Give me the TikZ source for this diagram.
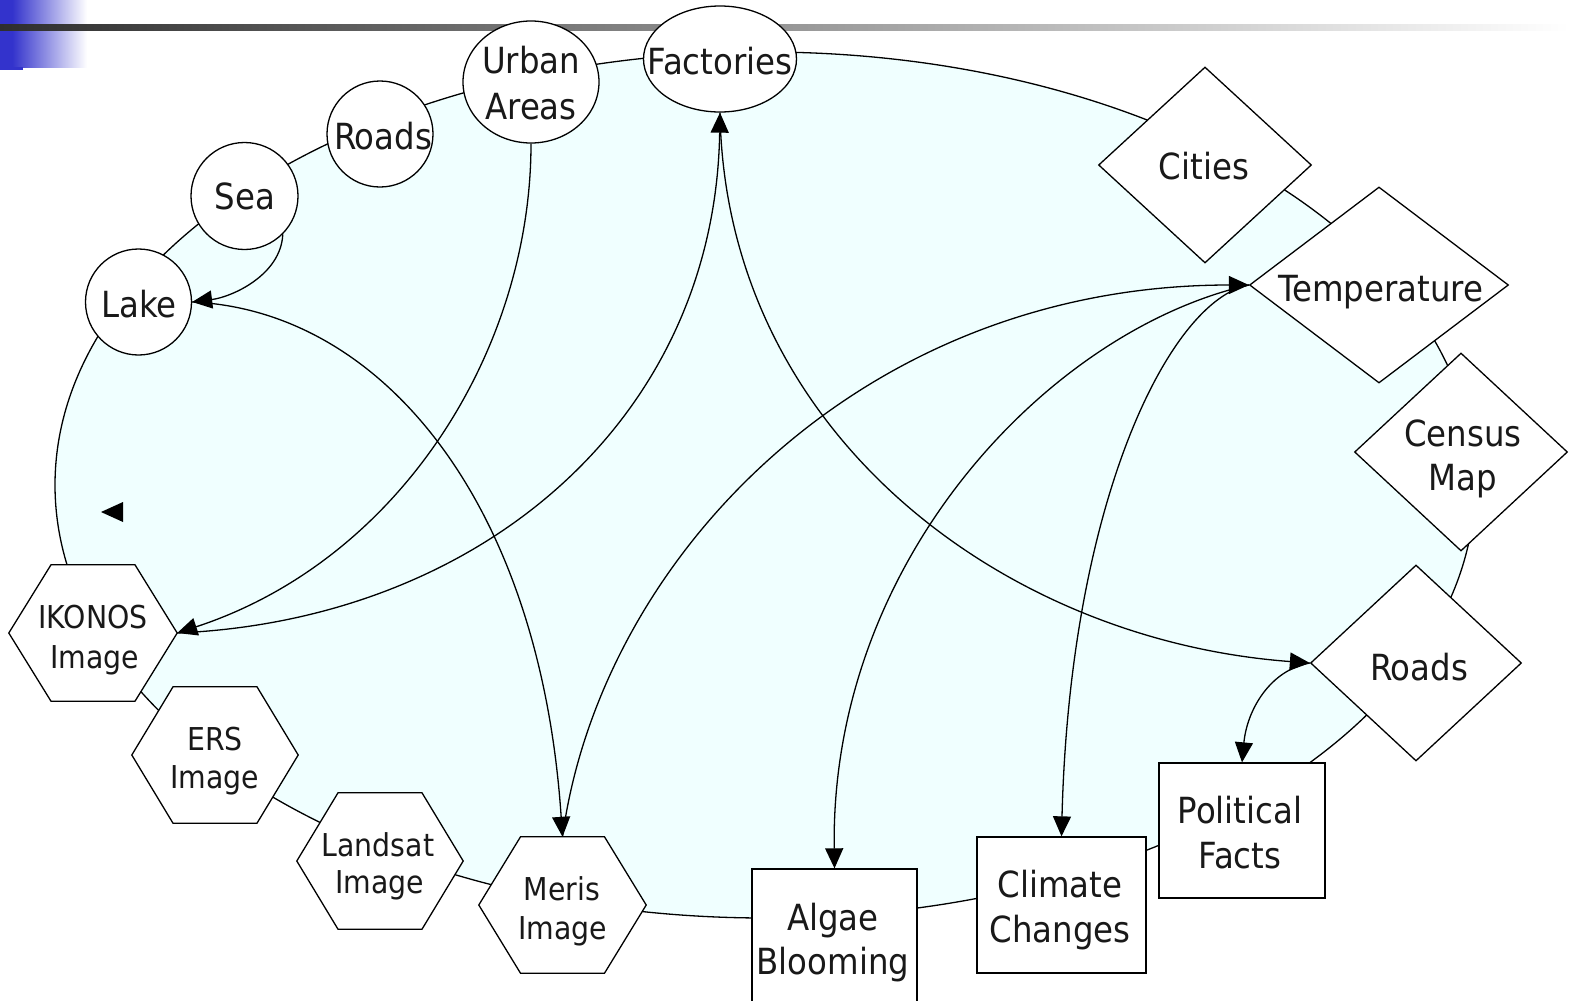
\documentclass[tikz,border=0pt]{standalone}
\usepackage{fontspec}
\setmainfont{DejaVu Sans Condensed}
\usetikzlibrary{shapes.geometric, arrows.meta}

\definecolor{ringfill}{RGB}{240,255,255}
\definecolor{barblue}{RGB}{51,51,204}
\definecolor{bardark}{RGB}{46,46,46}
% TikZ maps the 25bp--75bp band of a shading onto the filled path
\pgfdeclarehorizontalshading{bluefade}{100bp}{color(0bp)=(barblue); color(25bp)=(barblue); color(32bp)=(barblue); color(75bp)=(white); color(100bp)=(white)}
\pgfdeclarehorizontalshading{greyfade}{100bp}{color(0bp)=(bardark); color(25bp)=(bardark); color(75bp)=(white); color(100bp)=(white)}

% hexagon outline around a rectangular frame node
\newcommand\hexoutline[1]{%
  \filldraw[outline, fill=white] (#1.west) -- ([xshift=-42pt]#1.north) -- ([xshift=42pt]#1.north)
    -- (#1.east) -- ([xshift=42pt]#1.south) -- ([xshift=-42pt]#1.south) -- cycle;}

\tikzset{
  outline/.style={draw=black, line width=1.3pt, line join=miter},
  roundbox/.style={outline, fill=white, circle, inner sep=0pt},
  ovalbox/.style={outline, fill=white, ellipse, inner sep=0pt},
  diamondbox/.style={outline, fill=white, diamond, inner sep=0pt},
  squarebox/.style={outline, fill=white, rectangle, inner sep=0pt},
  hexframe/.style={rectangle, inner sep=0pt, minimum height=136pt},
  bigtext/.style={font=\fontsize{36}{44}\selectfont, anchor=base, inner sep=0pt, text=black!90},
  smalltext/.style={font=\fontsize{31.5}{38}\selectfont, anchor=base, inner sep=0pt, text=black!90},
  link/.style={draw=black, line width=1.3pt},
  headend/.style={-{Triangle[length=20pt,width=18pt]}},
}

\begin{document}
\begin{tikzpicture}[x=1pt, y=-1pt]
\useasboundingbox (0,0) rectangle (1569,1001);

% title decoration
\shade[shading=bluefade] (0,0) rectangle (87,67);
\fill[barblue] (0,67) rectangle (23,70);
\shade[shading=greyfade] (0,24) rectangle (1569,30);

% the ring
\draw[outline, fill=ringfill] (765,485) ellipse [x radius=710pt, y radius=433pt];

% shapes
\node[roundbox, minimum size=106pt] (lake) at (138.5,302) {};
\node[roundbox, minimum size=107pt] (sea) at (244.5,196) {};
\node[roundbox, minimum size=106pt] (roadsA) at (380,134) {};
\node[ovalbox, minimum width=136pt, minimum height=122pt] (urban) at (531,82) {};
\node[ovalbox, minimum width=153pt, minimum height=106pt] (factories) at (720,59) {};

\node[diamondbox, minimum width=213pt, minimum height=196pt] (cities) at (1205,165) {};
\node[diamondbox, minimum width=259pt, minimum height=196pt] (temp) at (1379,285) {};
\node[diamondbox, minimum width=213pt, minimum height=198pt] (census) at (1461,452) {};
\node[diamondbox, minimum width=211pt, minimum height=196pt] (roadsB) at (1416,663) {};

\node[squarebox, minimum width=166pt, minimum height=135pt] (political) at (1242,830.5) {};
\node[squarebox, minimum width=169pt, minimum height=136pt] (climate) at (1061.5,905) {};
\node[squarebox, minimum width=165pt, minimum height=135pt] (algae) at (834.5,936.5) {};

\node[hexframe, minimum width=168pt] (ikonos) at (93,633) {};
\node[hexframe, minimum width=166pt] (ers) at (215,755) {};
\node[hexframe, minimum width=166pt] (landsat) at (380,861) {};
\node[hexframe, minimum width=167pt] (meris) at (562.5,905) {};
\hexoutline{ikonos}
\hexoutline{ers}
\hexoutline{landsat}
\hexoutline{meris}

% connectors
\draw[link, headend] (sea.-45) .. controls (281,275) and (232,297) .. (lake.east);
\draw[link, headend] (lake.east) .. controls (380,310) and (540,500) .. (meris.north);
\draw[link, headend] (urban.south) .. controls (531,350) and (400,560) .. (ikonos.east);
\draw[link, headend] (ikonos.east) .. controls (480,620) and (715,420) .. (factories.south);
\draw[link, headend] (factories.south) .. controls (725,430) and (1000,640) .. (roadsB.west);
\draw[link, headend] (meris.north) .. controls (600,560) and (860,285) .. (temp.west);
\draw[link, headend] (temp.west) .. controls (1050,330) and (830,560) .. (algae.north);
\draw[link, headend] (temp.west) .. controls (1170,300) and (1070,500) .. (climate.north);
\draw[link, headend] (roadsB.west) .. controls (1270,670) and (1247,710) .. (political.north);

% loose arrow head
\fill (101,512) -- (123,502) -- (123,522) -- cycle;

% labels
\node[bigtext] (lakeT) at (139,317) {Lake};
\node[bigtext] (seaT) at (245,209) {Sea};
\node[bigtext] (roadsAT) at (383,149) {Roads};
\node[bigtext] (urbanT1) at (531,73) {Urban};
\node[bigtext] (urbanT2) at (531,119) {Areas};
\node[bigtext] (factoriesT) at (720,74) {Factories};
\node[bigtext] (citiesT) at (1204,179) {Cities};
\node[bigtext] (tempT) at (1381,301) {Temperature};
\node[bigtext] (censusT1) at (1463,446) {Census};
\node[bigtext] (censusT2) at (1463,490) {Map};
\node[bigtext] (roadsBT) at (1419,680) {Roads};
\node[bigtext] (politicalT1) at (1240,823) {Political};
\node[bigtext] (politicalT2) at (1240,868) {Facts};
\node[bigtext] (climateT1) at (1060,897) {Climate};
\node[bigtext] (climateT2) at (1060,942) {Changes};
\node[bigtext] (algaeT1) at (833,930) {Algae};
\node[bigtext] (algaeT2) at (833,974) {Blooming};

\node[smalltext] (ikonosT1) at (93,628) {IKONOS};
\node[smalltext] (ikonosT2) at (95,668) {Image};
\node[smalltext] (ersT1) at (215,750) {ERS};
\node[smalltext] (ersT2) at (215,788) {Image};
\node[smalltext] (landsatT1) at (378,856) {Landsat};
\node[smalltext] (landsatT2) at (380,893) {Image};
\node[smalltext] (merisT1) at (562,900) {Meris};
\node[smalltext] (merisT2) at (563,939) {Image};
\end{tikzpicture}
\end{document}
